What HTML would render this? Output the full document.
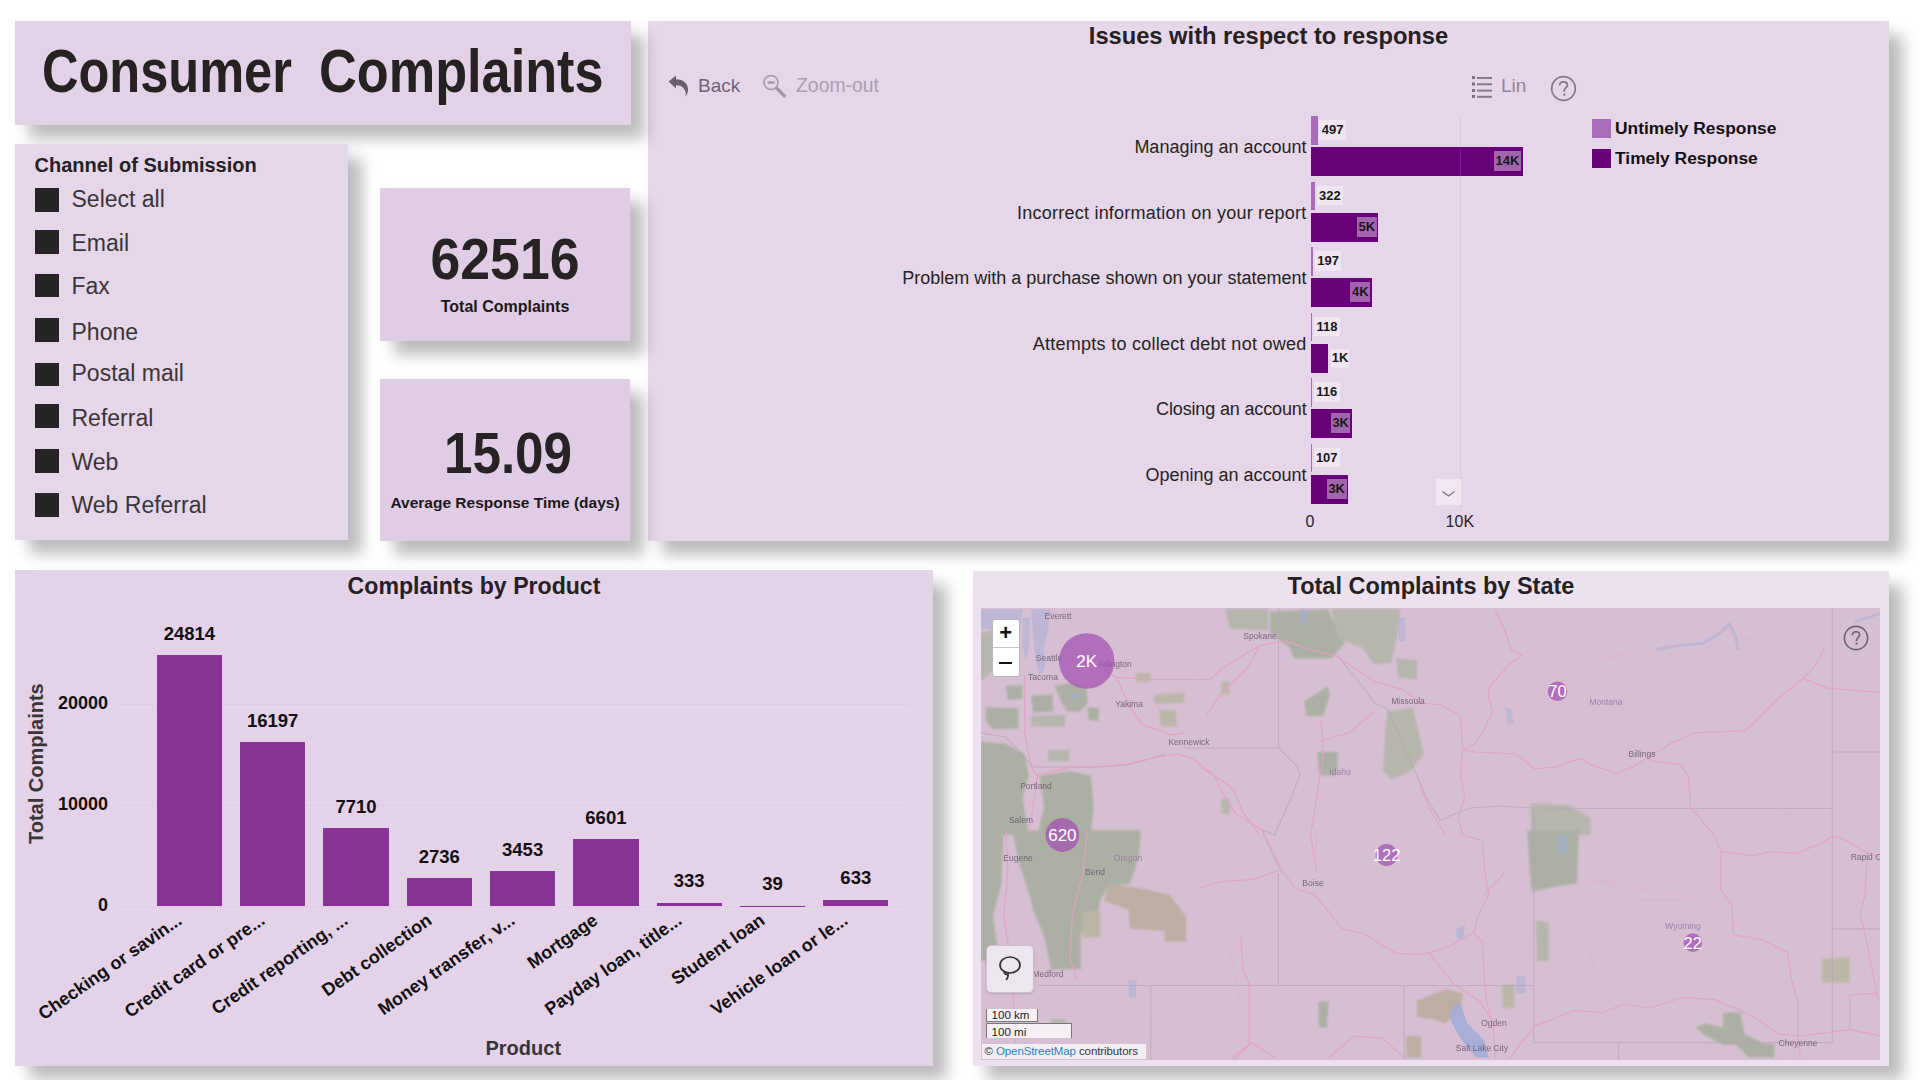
<!DOCTYPE html>
<html>
<head>
<meta charset="utf-8">
<style>
*{margin:0;padding:0;box-sizing:border-box}
html,body{width:1920px;height:1080px;overflow:hidden;background:#fff}
body{position:relative;font-family:"Liberation Sans",Arial,sans-serif;color:#252423}
.p{position:absolute;background:#e6d6e9;box-shadow:14px 14px 14px rgba(0,0,0,0.26),0 0 8px rgba(0,0,0,0.03)}
.abs{position:absolute;white-space:nowrap}
.b{font-weight:bold}
.cb{position:absolute;left:20px;width:24px;height:23.5px;background:#262424}
.si{position:absolute;left:56.5px;font-size:23px;line-height:1;color:#3a3537;white-space:nowrap}
.cat{position:absolute;right:582.5px;font-size:18px;line-height:1;color:#252423;white-space:nowrap}
.bu{position:absolute;height:28.4px;background:#a86cb8}
.bt{position:absolute;height:29px;background:#68007a}
.lb{position:absolute;height:19.5px;line-height:19.5px;text-align:center;font-size:13px;font-weight:bold;color:#1b1719;background:#efe6f1}
.lbd{position:absolute;height:20px;line-height:20px;text-align:center;font-size:13px;font-weight:bold;color:#1b1719;background:#a265ad}
.yl{position:absolute;right:825px;font-size:18px;line-height:1;font-weight:bold;color:#141012;white-space:nowrap}
.pb{position:absolute;background:#893396}
.vl{position:absolute;width:80px;text-align:center;font-size:18.5px;line-height:1;font-weight:bold;color:#141012}
.xa{position:absolute;width:0;height:0;transform:rotate(-35deg);transform-origin:0 0}
.xa span{position:absolute;right:0;top:-15.24px;font-size:18px;line-height:1;font-weight:bold;color:#141012;white-space:nowrap}
.ctr{position:absolute;left:0;width:100%;text-align:center;line-height:1;white-space:nowrap}
</style>
</head>
<body>
<!-- Issues chart -->
<div class="p" id="issues" style="left:648px;top:21px;width:1241px;height:520px">
  <div class="ctr b" style="top:4.2px;font-size:23.7px;color:#252122">Issues with respect to response</div>
  <svg class="abs" style="left:18.0px;top:53.0px" width="26" height="24" viewBox="0 0 26 24"><path d="M2.5 7.5 L10 1.5 L10 5.2 C17 5.2 22 9 22 15.5 C22 18.5 21 20.5 19.5 22.5 C20 20.5 20 18.5 19 16.5 C17.5 13 14.5 11.2 10 11.2 L10 14.5 Z" fill="#6a5f6d"/></svg>
  <div class="abs" style="left:50.0px;top:54.8px;font-size:19px;line-height:1;color:#6f6472">Back</div>
  <svg class="abs" style="left:114.0px;top:52.0px" width="28" height="28" viewBox="0 0 28 28"><circle cx="9" cy="9.5" r="7" fill="none" stroke="#a596a8" stroke-width="1.6"/><path d="M5.5 9.5 H12.5" stroke="#a596a8" stroke-width="2.2"/><path d="M14 14.5 L23.5 24" stroke="#a596a8" stroke-width="3.2"/></svg>
  <div class="abs" style="left:148.0px;top:54.6px;font-size:19.4px;line-height:1;color:#ab9fae">Zoom-out</div>
  <svg class="abs" style="left:823.0px;top:54.0px" width="22" height="24" viewBox="0 0 22 24"><g fill="#806f82"><rect x="1" y="1" width="3" height="3"/><rect x="1" y="7.5" width="3" height="3"/><rect x="1" y="14" width="3" height="3"/><rect x="1" y="20" width="3" height="3"/></g><g stroke="#8a798c" stroke-width="2"><path d="M6 3 H21"/><path d="M6 9.3 H21"/><path d="M6 15.6 H21"/><path d="M6 21.8 H21"/></g></svg>
  <div class="abs" style="left:853.0px;top:54.8px;font-size:19px;line-height:1;color:#928494">Lin</div>
  <svg class="abs" style="left:902.0px;top:53.5px" width="27" height="27" viewBox="0 0 27 27"><circle cx="13.5" cy="13.5" r="11.8" fill="none" stroke="#857987" stroke-width="1.7"/><path d="M9.6 10.6 C9.6 8 11.4 6.8 13.5 6.8 C15.8 6.8 17.4 8.2 17.4 10.3 C17.4 12.6 14.2 13 14.2 15.6 L14.2 16.8" fill="none" stroke="#857987" stroke-width="1.7"/><rect x="13.2" y="18.6" width="2" height="2" fill="#857987"/></svg>
  <div class="abs" style="left:811.5px;top:95.0px;width:1px;height:396px;background:rgba(180,140,190,0.2);z-index:2"></div>
  <div class="cat" style="top:117.2px;">Managing an account</div>
  <div class="bu" style="left:662.5px;top:95.4px;width:7.4px"></div>
  <div class="lb" style="left:671.4px;top:99.4px;width:26.3px">497</div>
  <div class="bt" style="left:662.5px;top:126.4px;width:212.3px"></div>
  <div class="lbd" style="left:845.8px;top:130.4px;width:27.5px">14K</div>
  <div class="cat" style="top:182.7px;letter-spacing:0.23px">Incorrect information on your report</div>
  <div class="bu" style="left:662.5px;top:160.9px;width:4.8px"></div>
  <div class="lb" style="left:668.8px;top:164.9px;width:26.3px">322</div>
  <div class="bt" style="left:662.5px;top:191.9px;width:67.5px"></div>
  <div class="lbd" style="left:709.0px;top:195.9px;width:19.5px">5K</div>
  <div class="cat" style="top:248.2px;">Problem with a purchase shown on your statement</div>
  <div class="bu" style="left:662.5px;top:226.4px;width:2.9px"></div>
  <div class="lb" style="left:666.9px;top:230.4px;width:26.3px">197</div>
  <div class="bt" style="left:662.5px;top:257.4px;width:61.4px"></div>
  <div class="lbd" style="left:702.4px;top:261.4px;width:20px">4K</div>
  <div class="cat" style="top:313.7px;letter-spacing:0.26px">Attempts to collect debt not owed</div>
  <div class="bu" style="left:662.5px;top:291.9px;width:1.8px"></div>
  <div class="lb" style="left:665.8px;top:295.9px;width:26.3px">118</div>
  <div class="bt" style="left:662.5px;top:322.9px;width:17.5px"></div>
  <div class="lb" style="left:683.2px;top:328.4px;width:17.8px;height:18.8px;line-height:18.8px">1K</div>
  <div class="cat" style="top:379.2px;letter-spacing:-0.15px">Closing an account</div>
  <div class="bu" style="left:662.5px;top:357.4px;width:1.7px"></div>
  <div class="lb" style="left:665.7px;top:361.4px;width:26.3px">116</div>
  <div class="bt" style="left:662.5px;top:388.4px;width:41.2px"></div>
  <div class="lbd" style="left:683.2px;top:392.4px;width:19px">3K</div>
  <div class="cat" style="top:444.7px;">Opening an account</div>
  <div class="bu" style="left:662.5px;top:422.9px;width:1.6px"></div>
  <div class="lb" style="left:665.6px;top:426.9px;width:26.3px">107</div>
  <div class="bt" style="left:662.5px;top:453.9px;width:37.7px"></div>
  <div class="lbd" style="left:678.7px;top:457.9px;width:20px">3K</div>
  <div class="abs" style="left:787.6px;top:458.4px;width:25.2px;height:25.6px;background:#f1e7f3;z-index:3"></div>
  <svg class="abs" style="left:794.0px;top:468.0px;z-index:4" width="13" height="8" viewBox="0 0 13 8"><path d="M0.5 2.5 L6.5 7 L12.5 2.5" fill="none" stroke="#7d747f" stroke-width="1.3"/></svg>
  <div class="abs" style="left:657.5px;top:492.9px;font-size:16px;line-height:1">0</div>
  <div class="abs" style="left:797.6px;top:492.9px;font-size:16px;line-height:1">10K</div>
  <div class="abs" style="left:944.0px;top:98.3px;width:19px;height:18.3px;background:#a86cb8"></div>
  <div class="abs" style="left:944.0px;top:128.0px;width:19px;height:18.6px;background:#68007a"></div>
  <div class="abs b" style="left:967.0px;top:98.6px;font-size:17.4px;line-height:1;color:#141012">Untimely Response</div>
  <div class="abs b" style="left:967.0px;top:128.7px;font-size:17.4px;line-height:1;color:#141012">Timely Response</div>
</div>
<!-- Title -->
<div class="p" id="title" style="left:15px;top:21px;width:616px;height:104px;background:#e3d2e7">
  <div class="abs b" style="left:27.3px;top:19px;font-size:62px;line-height:1;color:#262222;transform-origin:0 0;transform:scaleX(0.815)">Consumer</div>
  <div class="abs b" style="left:303.9px;top:19px;font-size:62px;line-height:1;color:#262222;transform-origin:0 0;transform:scaleX(0.843)">Complaints</div>
</div>

<!-- Slicer -->
<div class="p" id="slicer" style="left:15px;top:144px;width:333px;height:396px">
  <div class="abs b" style="left:19.5px;top:10.7px;font-size:20px;line-height:1;color:#252122">Channel of Submission</div>
  <div class="cb" style="top:44.0px"></div><div class="si" style="top:44.3px">Select all</div>
  <div class="cb" style="top:86.3px"></div><div class="si" style="top:87.6px">Email</div>
  <div class="cb" style="top:129.8px"></div><div class="si" style="top:131.0px">Fax</div>
  <div class="cb" style="top:174.0px"></div><div class="si" style="top:176.6px">Phone</div>
  <div class="cb" style="top:218.5px"></div><div class="si" style="top:218.0px">Postal mail</div>
  <div class="cb" style="top:260.2px"></div><div class="si" style="top:263.4px">Referral</div>
  <div class="cb" style="top:305.2px"></div><div class="si" style="top:306.6px">Web</div>
  <div class="cb" style="top:349.0px"></div><div class="si" style="top:350.4px">Web Referral</div>
</div>

<!-- Cards -->
<div class="p" id="card1" style="left:380px;top:188px;width:250px;height:153px;background:#e0cce5">
  <div class="ctr b" style="top:42.8px;font-size:57px;color:#272223;transform:scaleX(0.94)">62516</div>
  <div class="ctr b" style="top:111.2px;font-size:16px;color:#1c1819">Total Complaints</div>
</div>
<div class="p" id="card2" style="left:380px;top:379px;width:250px;height:162px;background:#e0cce5">
  <div class="ctr b" style="left:3px;top:46.2px;font-size:57px;color:#272223;transform:scaleX(0.898)">15.09</div>
  <div class="ctr b" style="top:116px;font-size:15.5px;color:#1c1819">Average Response Time (days)</div>
</div>


<!-- Product chart -->
<div class="p" id="product" style="left:15px;top:570px;width:918px;height:496px;background:#e3d2e8">
  <div class="ctr b" style="top:4.6px;font-size:23.1px;color:#252122">Complaints by Product</div>
  <div class="abs" style="left:105.0px;top:133.5px;width:790px;height:0;border-top:1px dotted #d8c6dc"></div>
  <div class="abs" style="left:105.0px;top:234.5px;width:790px;height:0;border-top:1px dotted #d8c6dc"></div>
  <div class="abs" style="left:105.0px;top:335.5px;width:790px;height:0;border-top:1px dotted #d8c6dc"></div>
  <div class="yl" style="top:124.1px">20000</div>
  <div class="yl" style="top:225.1px">10000</div>
  <div class="yl" style="top:326.1px">0</div>
  <div class="abs" style="left:28.1px;top:274.2px;width:0;height:0;transform:rotate(-90deg);transform-origin:0 0"><span class="abs b" style="left:0;top:-16.93px;font-size:20px;line-height:1;color:#3a3537">Total Complaints</span></div>
  <div class="pb" style="left:141.7px;top:85.4px;width:65.4px;height:250.6px"></div>
  <div class="vl" style="left:134.4px;top:55.1px">24814</div>
  <div class="xa" style="left:167.6px;top:353.0px"><span>Checking or savin...</span></div>
  <div class="pb" style="left:225.0px;top:172.4px;width:65.4px;height:163.6px"></div>
  <div class="vl" style="left:217.7px;top:142.2px">16197</div>
  <div class="xa" style="left:250.9px;top:353.0px"><span>Credit card or pre...</span></div>
  <div class="pb" style="left:308.3px;top:258.1px;width:65.4px;height:77.9px"></div>
  <div class="vl" style="left:301.0px;top:227.9px">7710</div>
  <div class="xa" style="left:334.2px;top:353.0px"><span>Credit reporting, ...</span></div>
  <div class="pb" style="left:391.6px;top:308.4px;width:65.4px;height:27.6px"></div>
  <div class="vl" style="left:384.3px;top:278.1px">2736</div>
  <div class="xa" style="left:417.5px;top:353.0px"><span>Debt collection</span></div>
  <div class="pb" style="left:474.9px;top:301.1px;width:65.4px;height:34.9px"></div>
  <div class="vl" style="left:467.6px;top:270.9px">3453</div>
  <div class="xa" style="left:500.9px;top:353.0px"><span>Money transfer, v...</span></div>
  <div class="pb" style="left:558.2px;top:269.3px;width:65.4px;height:66.7px"></div>
  <div class="vl" style="left:550.9px;top:239.1px">6601</div>
  <div class="xa" style="left:584.2px;top:353.0px"><span>Mortgage</span></div>
  <div class="pb" style="left:641.5px;top:332.6px;width:65.4px;height:3.4px"></div>
  <div class="vl" style="left:634.2px;top:302.4px">333</div>
  <div class="xa" style="left:667.5px;top:353.0px"><span>Payday loan, title...</span></div>
  <div class="pb" style="left:724.8px;top:335.6px;width:65.4px;height:0.4px"></div>
  <div class="vl" style="left:717.5px;top:305.3px">39</div>
  <div class="xa" style="left:750.8px;top:353.0px"><span>Student loan</span></div>
  <div class="pb" style="left:808.1px;top:329.6px;width:65.4px;height:6.4px"></div>
  <div class="vl" style="left:800.8px;top:299.3px">633</div>
  <div class="xa" style="left:834.0px;top:353.0px"><span>Vehicle loan or le...</span></div>
  <div class="abs b" style="left:470.5px;top:468.1px;font-size:20px;line-height:1;color:#3a3537">Product</div>
</div>

<!-- Map -->
<div class="p" id="map" style="left:973px;top:571px;width:916px;height:495px;background:#ede1f0">
  <div class="ctr b" style="top:4.1px;font-size:23.5px;color:#252122">Total Complaints by State</div>
<svg class="abs" style="left:8px;top:37px" width="899" height="452" viewBox="981 608 899 452">
<defs><filter id="bl" x="-20%" y="-20%" width="140%" height="140%"><feGaussianBlur stdDeviation="1.3"/></filter><filter id="bl2" x="-20%" y="-20%" width="140%" height="140%"><feGaussianBlur stdDeviation="0.5"/></filter></defs>
<rect x="981" y="608" width="899" height="452" fill="#d6bfd2"/>
<g filter="url(#bl)" opacity="0.72">
<polygon points="980.0,632.7 992.8,630.6 1005.6,641.2 1001.3,660.4 988.5,675.3 980.0,681.7" fill="#aab3a0"/>
<polygon points="1005.6,685.9 1022.6,684.9 1022.6,698.7 1007.7,699.8" fill="#9cab93"/>
<polygon points="1031.1,695.5 1052.4,694.4 1053.5,711.5 1033.2,712.5" fill="#9cab93"/>
<polygon points="1054.5,685.9 1071.6,682.7 1086.5,688.0 1087.5,703.0 1080.1,711.5 1067.3,711.5 1060.9,700.8" fill="#9cab93"/>
<polygon points="986.4,707.2 1018.3,708.3 1018.3,728.5 992.8,729.6 985.3,720.0" fill="#9cab93"/>
<polygon points="1031.1,715.7 1065.2,714.7 1065.2,726.4 1031.1,726.4" fill="#aab3a0"/>
<polygon points="1048.1,749.8 1069.4,749.8 1069.4,761.5 1048.1,761.5" fill="#aab3a0"/>
<polygon points="980.0,741.3 1005.6,743.4 1024.7,754.1 1029.0,775.4 1022.6,796.7 1029.0,835.0 980.0,835.0" fill="#9cab93"/>
<polygon points="1039.6,775.4 1069.4,771.1 1090.7,775.4 1093.9,807.3 1090.7,835.0 1037.5,835.0 1043.9,807.3" fill="#9cab93"/>
<polygon points="1087.5,707.2 1099.3,708.3 1098.2,721.1 1088.6,720.0" fill="#9cab93"/>
<polygon points="1154.6,694.4 1184.4,692.3 1184.4,703.0 1154.6,704.0" fill="#b3b398"/>
<polygon points="1158.9,709.3 1175.9,710.4 1177.0,726.4 1161.0,726.4" fill="#b3b398"/>
<polygon points="1135.5,673.1 1150.4,673.1 1150.4,681.7 1136.5,682.1" fill="#b3b398"/>
<polygon points="980.0,830.0 1003.6,830.0 1001.5,883.7 992.9,915.9 999.3,958.8 980.0,961.0" fill="#9cab93"/>
<polygon points="1012.2,830.0 1141.0,830.0 1138.9,855.8 1130.3,883.7 1108.8,885.8 1100.2,900.9 1096.0,922.3 1080.9,933.1 1080.9,969.6 1050.9,969.6 1044.4,937.4 1033.7,911.6 1029.4,894.4 1018.7,862.2" fill="#9cab93"/>
<polygon points="1108.8,883.7 1138.9,888.0 1169.0,894.4 1186.1,915.9 1186.1,941.7 1164.7,941.7 1164.7,930.9 1130.3,928.8 1128.2,909.5 1104.5,900.9" fill="#b4a790"/>
<polygon points="1083.1,911.6 1100.2,911.6 1100.2,937.4 1083.1,937.4" fill="#b3b398"/>
<polygon points="1050.9,1019.0 1065.9,1019.0 1068.0,1036.1 1053.0,1036.1" fill="#aab3a0"/>
<polygon points="1270.3,611.4 1327.8,609.3 1344.8,643.3 1332.0,658.2 1293.7,658.2 1289.4,647.6 1270.3,632.7" fill="#9cab93"/>
<polygon points="1332.0,609.3 1400.2,609.3 1398.0,630.6 1391.7,662.5 1374.6,664.6 1361.8,647.6 1338.4,639.1" fill="#aab3a0"/>
<polygon points="1395.9,658.2 1417.2,660.4 1417.2,679.5 1398.0,677.4" fill="#aab3a0"/>
<polygon points="1225.6,609.3 1268.1,609.3 1268.1,630.6 1229.8,628.4" fill="#aab3a0"/>
<polygon points="1304.3,700.8 1315.0,694.4 1327.8,685.9 1329.9,694.4 1323.5,715.7 1306.5,715.7" fill="#9cab93"/>
<polygon points="1317.1,751.9 1338.4,751.9 1336.3,775.4 1319.3,775.4" fill="#9cab93"/>
<polygon points="1387.4,711.5 1412.9,707.2 1423.6,754.1 1410.8,771.1 1391.7,779.6 1383.1,771.1 1385.3,732.8" fill="#aab3a0"/>
<polygon points="1221.3,681.7 1229.8,681.7 1229.8,694.4 1221.3,694.4" fill="#b3b398"/>
<polygon points="1221.3,798.8 1229.8,798.8 1229.8,813.7 1221.3,813.7" fill="#aab3a0"/>
<polygon points="1318.1,1001.8 1328.8,1001.8 1326.7,1027.6 1319.2,1027.6" fill="#9cab93"/>
<polygon points="1416.9,999.6 1430.0,999.6 1430.0,1019.0 1416.9,1016.8" fill="#b4a790"/>
<polygon points="1406.1,1036.1 1421.2,1036.1 1421.2,1057.6 1406.1,1057.6" fill="#b4a790"/>
<polygon points="1530.7,803.0 1569.1,805.2 1590.4,817.9 1590.4,835.0 1530.7,835.0" fill="#aab3a0"/>
<polygon points="1527.4,830.0 1578.9,830.0 1576.8,883.7 1559.6,885.8 1540.2,890.1 1531.7,892.3 1529.5,872.9" fill="#9cab93"/>
<polygon points="1536.0,920.2 1548.8,922.3 1548.8,961.0 1537.0,961.0" fill="#aab3a0"/>
<polygon points="1420.0,999.6 1445.8,988.9 1462.9,993.2 1460.8,1008.2 1445.8,1023.3 1432.9,1019.0 1420.0,1014.7" fill="#b4a790"/>
<polygon points="1501.6,984.6 1514.5,984.6 1514.5,1008.2 1502.7,1008.2" fill="#b3b398"/>
<polygon points="1723.0,1012.5 1740.2,1012.5 1744.5,1034.0 1761.7,1042.6 1774.5,1044.7 1774.5,1057.6 1748.8,1057.6 1735.9,1044.7 1723.0,1044.7 1705.8,1036.1 1695.1,1027.6 1705.8,1023.3 1723.0,1027.6" fill="#9cab93"/>
<polygon points="1821.8,958.8 1849.7,956.7 1849.7,982.5 1821.8,982.5" fill="#b3b398"/>
</g>
<g filter="url(#bl2)" opacity="0.45">
<polygon points="1031.1,609.3 1050.3,609.3 1048.1,630.6 1043.9,647.6 1044.9,668.9 1039.6,675.3 1035.4,658.2 1033.2,634.8" fill="#a0acd8"/>
<polygon points="1022.6,617.8 1030.0,617.8 1029.0,647.6 1025.8,660.4 1022.6,647.6" fill="#a0acd8"/>
<polygon points="980.0,609.3 1022.6,609.3 1020.5,628.4 1001.3,630.6 980.0,628.4" fill="#a0acd8"/>
<polygon points="1071.6,692.3 1080.1,692.3 1080.1,698.7 1071.6,698.7" fill="#a0acd8"/>
<polygon points="1557.4,834.3 1568.2,834.3 1568.2,853.6 1557.4,853.6" fill="#a0acd8"/>
<polygon points="1516.6,976.0 1525.2,976.0 1525.2,993.2 1516.6,993.2" fill="#a0acd8"/>
<polygon points="1456.5,928.8 1465.1,924.5 1462.9,939.5 1456.5,939.5" fill="#a0acd8"/>
<polygon points="1300.1,609.3 1308.6,609.3 1307.5,624.2 1300.1,624.2" fill="#a0acd8"/>
<polygon points="1398.0,617.8 1405.5,617.8 1405.5,641.2 1399.1,641.2" fill="#a0acd8"/>
<polygon points="1505.2,707.2 1511.6,709.3 1513.7,724.3 1507.3,723.2" fill="#a0acd8"/>
<polygon points="1128.2,980.3 1136.8,980.3 1135.7,997.5 1129.2,997.5" fill="#a0acd8"/>
<polyline points="1656.4,649.7 1677.7,645.5 1703.2,643.3 1720.3,632.7 1728.8,624.2 1735.2,634.8 1738.4,649.7" fill="none" stroke="#a0acd8" stroke-width="3"/>
<polyline points="1854.4,622.0 1880.0,613.5" fill="none" stroke="#a0acd8" stroke-width="2.5"/>
</g>
<polygon filter="url(#bl2)" points="1452.2,1006.1 1460.8,1003.9 1467.2,1023.3 1484.4,1040.4 1488.7,1057.6 1475.8,1057.6 1458.7,1036.1 1450.1,1019.0" fill="#a0acd8" opacity="0.85"/>
<g fill="none" stroke="#b89fbd" stroke-width="1.2" opacity="0.6">
<polyline points="980.0,732.8 1005.6,737.0 1033.2,766.8 1069.4,766.8 1099.3,766.8 1129.1,764.7 1165.3,754.1"/>
<polyline points="1184.0,748.0 1278.8,748.0"/>
<polyline points="1278.6,608.0 1278.6,748.0 1298.0,767.0 1300.0,775.0 1291.6,796.7 1274.5,835.0 1262.0,830.0 1271.0,851.0 1281.6,873.0"/>
<polyline points="1278.4,873.0 1278.4,985.0"/>
<polyline points="1038.0,985.5 1533.8,985.5"/>
<polyline points="1150.7,985.5 1150.7,1060.0"/>
<polyline points="1404.0,985.5 1404.0,1060.0"/>
<polyline points="1533.8,808.0 1533.8,1042.6"/>
<polyline points="1533.8,1042.6 1832.5,1042.6"/>
<polyline points="1618.6,1042.6 1618.6,1060.0"/>
<polyline points="1592.0,808.5 1832.5,808.5"/>
<polyline points="1832.3,608.0 1832.3,1042.6"/>
<polyline points="1832.3,752.0 1880.0,752.0"/>
<polyline points="1832.3,928.8 1880.0,928.8"/>
<polyline points="1338.0,656.0 1362.0,686.0 1374.6,703.0 1387.0,709.0 1413.0,767.0 1426.0,797.0 1440.0,820.0 1470.0,808.0 1500.0,806.0 1533.8,808.0 1592.0,808.5"/>
</g>
<g fill="none" stroke="#e6a0c7" stroke-width="1.25" opacity="0.9" stroke-linejoin="round">
<polyline points="1065.2,660.4 1099.3,666.8 1116.3,677.4 1154.6,679.5 1210.0,679.5"/>
<polyline points="1210.0,680.0 1221.0,669.0 1259.6,645.5 1285.0,641.0 1310.7,649.7 1336.0,656.0 1353.0,667.0 1374.6,681.7 1404.0,690.0 1420.0,703.0 1441.0,705.0 1460.5,715.7 1462.6,749.8 1475.4,752.0 1515.8,754.0 1535.0,769.0 1556.3,766.8 1579.7,758.3 1590.4,764.7 1616.0,773.0 1633.0,766.8 1650.0,756.0 1671.3,743.4 1694.7,732.8 1745.8,730.6 1775.6,700.8 1803.3,678.5 1826.7,688.0 1880.0,692.3"/>
<polyline points="1116.3,677.4 1129.1,705.1 1141.8,724.3 1171.7,734.9 1184.4,732.8"/>
<polyline points="1035.4,775.4 1071.6,766.8 1099.3,766.8 1124.8,764.7 1161.0,756.2 1178.0,754.1 1192.9,758.3 1214.2,775.4 1224.9,796.7 1235.5,813.7"/>
<polyline points="1236.0,814.0 1262.0,830.0 1281.6,868.7 1294.5,888.0 1313.8,894.4 1328.8,911.6 1341.7,928.8 1363.0,933.0 1386.8,948.0 1397.5,953.5 1420.0,954.5 1430.7,952.4 1450.0,946.0 1473.7,933.0"/>
<polyline points="1024.7,675.3 1024.7,732.8 1031.1,766.8 1037.5,775.4 1029.0,835.0"/>
<polyline points="1005.8,830.0 1007.9,872.9 1003.6,915.9 1007.9,941.7 1012.2,980.3 1016.5,1057.6"/>
<polyline points="1087.4,830.0 1083.1,872.9 1072.3,915.9 1070.2,958.8 1076.6,980.3"/>
<polyline points="1259.6,645.5 1246.8,669.0 1221.0,694.0 1206.0,716.0"/>
<polyline points="1321.0,720.0 1323.5,754.0 1310.7,835.0 1316.0,870.0"/>
<polyline points="1319.0,741.0 1349.0,733.0 1374.6,711.5"/>
<polyline points="1200.0,767.0 1221.0,780.0 1234.0,790.0 1242.6,811.6 1259.6,835.0"/>
<polyline points="1200.0,888.0 1221.5,881.5 1253.7,879.4 1277.3,870.8"/>
<polyline points="1240.8,937.4 1243.0,969.6 1249.4,984.6 1249.4,1044.7 1232.0,1062.0"/>
<polyline points="1328.8,1057.6 1354.6,1036.1 1382.5,1038.3 1404.0,1057.6"/>
<polyline points="1232.2,1057.6 1251.5,1042.6 1275.2,1057.6"/>
<polyline points="1494.5,609.0 1505.0,630.5 1511.6,649.7 1522.0,655.0 1509.4,664.6 1490.0,686.0 1488.0,694.4 1492.4,711.5 1484.0,730.6 1473.0,745.5 1462.6,750.0"/>
<polyline points="1462.6,750.0 1460.5,775.0 1464.7,796.7 1458.0,818.0 1462.6,835.0 1482.3,840.7 1484.4,868.7 1488.7,894.4 1478.0,916.0 1473.7,933.0 1482.3,941.7 1484.4,980.3 1486.6,1001.8 1493.0,1023.0 1495.0,1057.6"/>
<polyline points="1428.6,952.4 1454.4,984.6 1480.0,1001.8 1491.0,1019.0"/>
<polyline points="1484.4,894.4 1506.0,870.8"/>
<polyline points="1420.0,786.0 1428.5,807.0 1445.6,835.0"/>
<polyline points="1650.0,760.5 1679.8,764.7 1688.3,775.4 1690.5,807.3 1713.9,835.0 1721.0,851.5 1721.0,890.0 1731.6,905.0 1733.7,935.0 1761.7,939.5 1787.4,952.4 1791.7,980.3 1798.0,1001.8 1798.0,1034.0 1800.3,1057.6"/>
<polyline points="1721.0,851.5 1753.0,855.8 1770.0,851.5 1796.0,853.6 1821.8,842.9 1832.5,836.4 1843.0,838.6 1864.7,851.5 1880.0,858.0"/>
<polyline points="1510.0,1057.6 1523.0,1040.4 1536.0,1025.4 1553.0,1019.0 1574.6,1010.4 1602.5,1012.5 1624.0,1004.0 1650.0,1008.0 1682.0,997.5 1714.4,999.6 1740.0,1010.4 1757.4,1019.0 1778.8,1034.0 1800.3,1036.0 1832.5,1031.8 1849.7,1029.7 1880.0,1036.0"/>
<polyline points="1824.6,647.6 1816.0,664.6 1803.3,678.5"/>
<polyline points="1867.0,858.0 1865.0,895.0 1860.0,915.0 1864.0,929.0 1878.0,1000.0"/>
<polyline points="1849.7,995.0 1849.7,1029.7"/>
<polyline points="1849.7,995.0 1878.0,993.0"/>
</g>
<g fill="none" stroke="#e2a9cc" stroke-width="0.9" opacity="0.55">
<polyline points="1150.0,620.0 1170.0,650.0 1200.0,680.0"/>
<polyline points="1230.0,700.0 1260.0,760.0 1280.0,800.0"/>
<polyline points="1320.0,820.0 1350.0,860.0 1380.0,900.0"/>
<polyline points="1560.0,640.0 1600.0,660.0 1640.0,650.0"/>
<polyline points="1600.0,880.0 1640.0,900.0 1680.0,900.0"/>
<polyline points="1200.0,900.0 1230.0,950.0 1240.0,1000.0"/>
<polyline points="1140.0,800.0 1180.0,820.0 1220.0,800.0"/>
<polyline points="1100.0,720.0 1130.0,740.0 1150.0,760.0"/>
<polyline points="1590.0,880.0 1650.0,890.0 1700.0,900.0"/>
<polyline points="1540.0,900.0 1580.0,930.0 1600.0,980.0"/>
<polyline points="1720.0,760.0 1760.0,800.0 1800.0,820.0"/>
<polyline points="1700.0,620.0 1750.0,640.0 1800.0,640.0"/>
<polyline points="1316.0,830.0 1316.0,873.0"/>
<polyline points="1775.0,880.0 1790.0,900.0 1800.0,920.0"/>
</g>
<g font-family="Liberation Sans, Arial, sans-serif" font-size="8.5" fill="#5f5062" text-anchor="middle" opacity="0.8" filter="url(#bl2)">
<text x="1058" y="619">Everett</text>
<text x="1049" y="661">Seattle</text>
<text x="1043" y="680">Tacoma</text>
<text x="1129" y="707">Yakima</text>
<text x="1260" y="639">Spokane</text>
<text x="1189" y="745">Kennewick</text>
<text x="1036" y="789">Portland</text>
<text x="1021" y="823">Salem</text>
<text x="1018" y="861">Eugene</text>
<text x="1095" y="875">Bend</text>
<text x="1313" y="886">Boise</text>
<text x="1408" y="704">Missoula</text>
<text x="1642" y="757">Billings</text>
<text x="1494" y="1026">Ogden</text>
<text x="1482" y="1051">Salt Lake City</text>
<text x="1798" y="1046">Cheyenne</text>
<text x="1866" y="860">Rapid C</text>
<text x="1048" y="977">Medford</text>
<text x="1115" y="667">Arlington</text>
</g>
<g font-family="Liberation Sans, Arial, sans-serif" font-size="8.5" fill="#9676a4" text-anchor="middle" opacity="0.85" filter="url(#bl2)">
<text x="1128" y="861">Oregon</text>
<text x="1340" y="775">Idaho</text>
<text x="1606" y="705">Montana</text>
<text x="1683" y="929">Wyoming</text>
</g>
<circle cx="1086.7" cy="661" r="27.8" fill="#a24fb0" fill-opacity="0.72"/>
<circle cx="1062.4" cy="835" r="16.9" fill="#a24fb0" fill-opacity="0.72"/>
<circle cx="1386.6" cy="855" r="11" fill="#a24fb0" fill-opacity="0.72"/>
<circle cx="1557.5" cy="691.25" r="9.75" fill="#a24fb0" fill-opacity="0.72"/>
<circle cx="1692.8" cy="942.6" r="9.3" fill="#a24fb0" fill-opacity="0.72"/>
<text x="1086.7" y="667.1" font-family="Liberation Sans, Arial, sans-serif" font-size="17" fill="#fff" text-anchor="middle">2K</text>
<text x="1062.4" y="841.1" font-family="Liberation Sans, Arial, sans-serif" font-size="17" fill="#fff" text-anchor="middle">620</text>
<text x="1386.6" y="860.9" font-family="Liberation Sans, Arial, sans-serif" font-size="16.5" fill="#fff" text-anchor="middle">122</text>
<text x="1557.5" y="697.2" font-family="Liberation Sans, Arial, sans-serif" font-size="16.5" fill="#fff" text-anchor="middle">70</text>
<text x="1692.8" y="948.5" font-family="Liberation Sans, Arial, sans-serif" font-size="16.5" fill="#fff" text-anchor="middle">22</text>
</svg>
<div class="abs" style="left:19px;top:48.4px;width:27.5px;height:58px;background:#fff;border:1px solid #bdb4bd;border-radius:3px"></div>
<div class="abs" style="left:20px;top:76.4px;width:25.5px;height:1px;background:#c9c2c9"></div>
<div class="abs b" style="left:19px;top:51px;width:27.5px;text-align:center;font-size:22px;line-height:22px;color:#111">+</div>
<div class="abs" style="left:26px;top:90.5px;width:13px;height:2.2px;background:#111"></div>
<svg class="abs" style="left:870px;top:53.5px" width="26" height="26" viewBox="0 0 26 26"><circle cx="13" cy="13" r="11.6" fill="none" stroke="#6d646f" stroke-width="1.6"/><path d="M9.5 10.3 C9.5 8 11 6.8 13 6.8 C15.2 6.8 16.6 8.1 16.6 10 C16.6 12.2 13.6 12.5 13.6 15 L13.6 16" fill="none" stroke="#6d646f" stroke-width="1.6"/><rect x="12.6" y="17.6" width="2" height="2" fill="#6d646f"/></svg>
<div class="abs" style="left:13px;top:374.2px;width:48.4px;height:48px;background:#eee6ef;border:1px solid #cdc3cd;border-radius:5px;box-shadow:0 1px 2px rgba(0,0,0,0.15)"></div>
<svg class="abs" style="left:23px;top:383px" width="28" height="30" viewBox="0 0 28 30"><ellipse cx="14" cy="11" rx="10" ry="8" fill="none" stroke="#333" stroke-width="1.7"/><path d="M8.5 17 C7.5 20 10.5 21.5 12 19.5 C12.5 22 11.5 24.5 10 26" fill="none" stroke="#333" stroke-width="1.7"/></svg>
<div class="abs" style="left:13px;top:437.8px;width:52px;height:13px;background:#f6f0f6;border:1px solid #777;border-top:none;font-size:11.6px;line-height:12px;padding-left:4.5px;color:#222;font-family:'Liberation Sans',Arial,sans-serif">100 km</div>
<div class="abs" style="left:13px;top:452px;width:86px;height:15px;background:#f6f0f6;border:1px solid #777;border-bottom:none;font-size:11.6px;line-height:15px;padding-left:4.5px;color:#222;font-family:'Liberation Sans',Arial,sans-serif">100 mi</div>
<div class="abs" style="left:9px;top:472.8px;width:163.5px;height:15.5px;background:#f3edf4;font-size:11.5px;line-height:15.5px;padding-left:2.5px;letter-spacing:-0.1px;color:#333;font-family:'Liberation Sans',Arial,sans-serif">&copy; <span style="color:#2b83b8">OpenStreetMap</span> contributors</div>
</div>
</body>
</html>
